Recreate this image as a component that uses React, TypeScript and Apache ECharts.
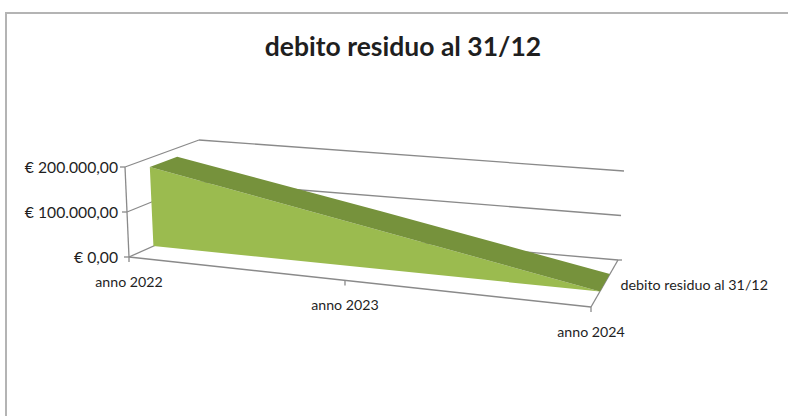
import React, { useEffect, useRef } from "react";
import * as echarts from "echarts";

const categories = ["anno 2022", "anno 2023", "anno 2024"];
const seriesName = "debito residuo al 31/12";
const residualDebt = [180000, 95000, 0];
const valueTicks = [0, 100000, 200000];
const valueTickLabels = ["€ 0,00", "€ 100.000,00", "€ 200.000,00"];

const FONT = "Lato, Carlito, 'Noto Sans', sans-serif";
const GRID = { left: 127, top: 167, width: 464, height: 90 };
const LINE = "#8a8a8a";
const TEXT = "#1f1f1f";
const AREA_FRONT = "#9bbb4f";
const AREA_TOP = "#76923c";

// Corners of the 3D box: [front / back][left / right][floor / ceiling]
const BOX = {
  fl0: [129, 257], fl1: [125, 167], fr0: [591, 307], fr1: [587, 217],
  bl0: [203, 224], bl1: [199, 140], br0: [618, 260], br1: [624, 171],
};
const DEPTH_FRONT = 0.33;
const DEPTH_BACK = 0.7;
const PERSPECTIVE = 1.139;

const lerp = (a: number[], b: number[], t: number) => [a[0] + (b[0] - a[0]) * t, a[1] + (b[1] - a[1]) * t];

// Projects a cartesian pixel from the grid into the oblique 3D box.
function project(p: number[], depth: number) {
  const rawU = (p[0] - GRID.left) / GRID.width;
  const v = (GRID.top + GRID.height - p[1]) / GRID.height;
  const u = rawU / (rawU + PERSPECTIVE * (1 - rawU));
  const f = lerp(lerp(BOX.fl0, BOX.fr0, u), lerp(BOX.fl1, BOX.fr1, u), v);
  const b = lerp(lerp(BOX.bl0, BOX.br0, u), lerp(BOX.bl1, BOX.br1, u), v);
  return lerp(f, b, depth);
}

const stroke = (points: number[][], width = 1.3) => ({
  type: "polyline",
  shape: { points },
  style: { stroke: LINE, lineWidth: width, fill: "none" },
  silent: true,
});

function renderFrame(_: any, api: any) {
  const last = categories.length - 1;
  const children: any[] = [];
  const at = (c: number, val: number, d: number) => project(api.coord([c, val]), d);
  valueTicks.forEach((val) => {
    // back wall and side wall lines
    children.push(stroke([at(0, val, 1), at(last, val, 1)]));
    children.push(stroke([at(0, val, 0), at(0, val, 1)]));
    const t = at(0, val, 0);
    children.push(stroke([[t[0] - 5, t[1]], t]));
  });
  children.push(stroke([at(0, valueTicks[0], 0), at(0, valueTicks[2], 0)]));
  children.push(stroke([at(0, 0, 0), at(last, 0, 0)]));
  children.push(stroke([at(last, 0, 0), at(last, 0, 1)]));
  const corner = at(last, 0, 1);
  children.push(stroke([corner, [corner[0] + 4, corner[1]]]));
  categories.forEach((_c, i) => {
    const t = at(i, 0, 0);
    children.push(stroke([t, [t[0], t[1] + 5]]));
  });
  return { type: "group", children };
}

function renderArea(params: any, api: any) {
  if (params.dataIndex !== 0) return null;
  const pts = residualDebt.map((val, i) => api.coord([i, val]));
  const floor = residualDebt.map((_v, i) => api.coord([i, 0]));
  const topFront = pts.map((p) => project(p, DEPTH_FRONT));
  const topBack = pts.map((p) => project(p, DEPTH_BACK));
  const floorFront = floor.map((p) => project(p, DEPTH_FRONT));
  return {
    type: "group",
    children: [
      {
        type: "polygon",
        shape: { points: [...topFront, ...floorFront.slice().reverse()] },
        style: { fill: AREA_FRONT },
      },
      {
        type: "polygon",
        shape: { points: [...topFront, ...topBack.slice().reverse()] },
        style: { fill: AREA_TOP },
      },
    ],
  };
}

function renderCategoryLabel(params: any, api: any) {
  const i = params.dataIndex;
  const p = project(api.coord([i, 0]), 0);
  return {
    type: "text",
    style: {
      text: categories[i],
      x: p[0],
      y: p[1] + 24,
      align: "center",
      verticalAlign: "middle",
      fill: TEXT,
      font: `14.2px ${FONT}`,
    },
  };
}

function renderSeriesLabel(_: any, api: any) {
  const p = project(api.coord([categories.length - 1, 0]), 0.5);
  return {
    type: "text",
    style: {
      text: seriesName,
      x: p[0] + 16,
      y: p[1] + 0.5,
      align: "left",
      verticalAlign: "middle",
      fill: TEXT,
      font: `14.3px ${FONT}`,
    },
  };
}

export default function App() {
  const ref = useRef<HTMLDivElement>(null);
  useEffect(() => {
    const chart = echarts.init(ref.current!, undefined, { renderer: "svg" });
    chart.setOption({
      animation: false,
      backgroundColor: "#ffffff",
      title: {
        text: seriesName,
        left: 398,
        top: 27,
        textAlign: "center",
        textStyle: { fontFamily: FONT, fontSize: 26.5, fontWeight: "bold", color: TEXT },
      },
      graphic: [
        {
          type: "rect",
          z: -10,
          shape: { x: 6, y: 13, width: 800, height: 420 },
          style: { fill: "#ffffff", stroke: "#b4b4b4", lineWidth: 2 },
        },
      ],
      grid: { ...GRID },
      xAxis: {
        type: "category",
        data: categories,
        boundaryGap: false,
        axisLine: { show: false },
        axisTick: { show: false },
        axisLabel: { show: false },
      },
      yAxis: {
        type: "value",
        min: 0,
        max: 200000,
        interval: 100000,
        axisLine: { show: false },
        axisTick: { show: false },
        splitLine: { show: false },
        axisLabel: {
          margin: 9,
          color: TEXT,
          fontFamily: FONT,
          fontSize: 15.7,
          formatter: (v: number) => valueTickLabels[valueTicks.indexOf(v)],
        },
      },
      series: [
        { type: "custom", name: "frame", data: [0], renderItem: renderFrame, silent: true, clip: false },
        { type: "custom", name: seriesName, data: residualDebt, renderItem: renderArea, silent: true, clip: false },
        { type: "custom", name: "categories", data: categories.map((_, i) => i), renderItem: renderCategoryLabel, silent: true, clip: false },
        { type: "custom", name: "series label", data: [0], renderItem: renderSeriesLabel, silent: true, clip: false },
      ],
    });
    return () => chart.dispose();
  }, []);
  return <div ref={ref} style={{ position: "absolute", left: 0, top: 0, width: 788, height: 416 }} />;
}
